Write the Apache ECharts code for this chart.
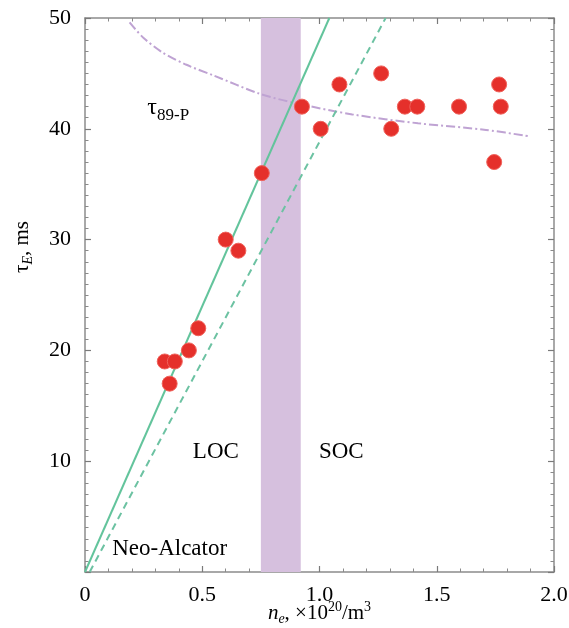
<!DOCTYPE html>
<html>
<head>
<meta charset="utf-8">
<script src="https://cdn.jsdelivr.net/npm/echarts@6/dist/echarts.min.js"></script>
<style>
  html, body { margin: 0; padding: 0; background: #fff; }
  #chart { width: 569px; height: 628px; }
</style>
</head>
<body>
<div id="chart"></div>
<script>
// Energy confinement time vs line-averaged density
const densityPoints = [0.925, 1.085, 1.005, 1.263, 1.306, 1.364, 1.417, 1.595, 1.766, 1.773, 1.745, 0.754, 0.600, 0.654, 0.483, 0.443, 0.340, 0.383, 0.361];
const tauPoints     = [42, 44, 40, 45, 40, 42, 42, 42, 44, 42, 37, 36, 30, 29, 22, 20, 19, 19, 17];

// Linear (neo-Alcator) scaling lines
const neoAlcatorSolid  = [[0, 0], [1.042, 50]];
const neoAlcatorDashed = [[0.02, 0], [1.282, 50]];

// ITER89-P reference curve
const iter89Density = [0.19, 0.25, 0.33, 0.43, 0.55, 0.74, 0.88, 1.14, 1.42, 1.71, 1.90];
const iter89Tau     = [49.6, 48.2, 46.9, 45.8, 44.8, 43.2, 42.4, 41.3, 40.5, 39.9, 39.3];

// LOC -> SOC transition band
const transitionBand = [0.75, 0.92];

// Axis ticks
const xTicks = [0, 0.5, 1.0, 1.5, 2.0];
const yTicks = [0, 10, 20, 30, 40, 50];

// Region annotations: [density, tau, text]
const annotations = [
  [0.558, 10.8, 'LOC'],
  [1.093, 10.8, 'SOC'],
  [0.361, 2.1, 'Neo-Alcator'],
  [0.355, 41.9, '{t|τ}{s|89-P}']
];

const serif = '"Liberation Serif", "DejaVu Serif", serif';
const frameColor = '#8c8c8c';
const ink = '#000';

const chart = echarts.init(document.getElementById('chart'));

function frameAxis(extra) {
  return Object.assign({
    type: 'value',
    axisLine: { show: true, onZero: false, lineStyle: { color: frameColor, width: 1.5 } },
    axisTick: { show: true, inside: true, length: 6, lineStyle: { color: '#7a7a7a', width: 1.2 } },
    splitLine: { show: false },
    minorSplitLine: { show: false }
  }, extra);
}

const xMin = xTicks[0], xMax = xTicks[xTicks.length - 1];
const yMin = yTicks[0], yMax = yTicks[yTicks.length - 1];
const xStep = xTicks[1] - xTicks[0];
const yStep = yTicks[1] - yTicks[0];
const xMinor = { show: true, splitNumber: 5, length: 3.5, lineStyle: { color: '#8a8a8a', width: 1 } };
const yMinor = { show: true, splitNumber: 10, length: 3.5, lineStyle: { color: '#8a8a8a', width: 1 } };

chart.setOption({
  animation: false,
  backgroundColor: '#ffffff',
  grid: { left: 85, right: 15, top: 18, bottom: 56, containLabel: false, outerBoundsMode: 'none' },
  xAxis: [
    frameAxis({
      position: 'bottom', min: xMin, max: xMax, interval: xStep,
      minorTick: xMinor,
      axisLabel: {
        show: true, margin: 12, color: ink, fontFamily: serif, fontSize: 22,
        formatter: v => (v === 0 ? '0' : v.toFixed(1))
      },
      name: '{i|n}{is|e}{t|, ×10}{sup|20}{t|/m}{sup|3}',
      nameLocation: 'middle', nameGap: 28, nameMoveOverlap: false,
      nameTextStyle: {
        rich: {
          i: { fontFamily: serif, fontStyle: 'italic', fontSize: 21, color: ink, lineHeight: 26, verticalAlign: 'middle' },
          is: { fontFamily: serif, fontStyle: 'italic', fontSize: 14, color: ink, lineHeight: 26, verticalAlign: 'bottom' },
          t: { fontFamily: serif, fontSize: 21, color: ink, lineHeight: 26, verticalAlign: 'middle' },
          sup: { fontFamily: serif, fontSize: 14, color: ink, lineHeight: 26, verticalAlign: 'top' }
        }
      }
    }),
    frameAxis({
      position: 'top', min: xMin, max: xMax, interval: xStep,
      minorTick: xMinor,
      axisLabel: { show: false }
    })
  ],
  yAxis: [
    frameAxis({
      position: 'left', min: yMin, max: yMax, interval: yStep,
      minorTick: yMinor,
      axisLabel: {
        show: true, margin: 14, color: ink, fontFamily: serif, fontSize: 22,
        formatter: v => (v === 0 ? '' : String(v))
      },
      name: '{t|τ}{s|E}{t|, ms}',
      nameLocation: 'middle', nameGap: 50, nameRotate: 90, nameMoveOverlap: false,
      nameTextStyle: {
        padding: [0, 0, 0, 96],
        rich: {
          t: { fontFamily: serif, fontSize: 21, color: ink, lineHeight: 26, verticalAlign: 'middle' },
          s: { fontFamily: serif, fontStyle: 'italic', fontSize: 14, color: ink, lineHeight: 26, verticalAlign: 'bottom' }
        }
      }
    }),
    frameAxis({
      position: 'right', min: yMin, max: yMax, interval: yStep,
      minorTick: yMinor,
      axisLabel: { show: false }
    })
  ],
  series: [
    {
      name: 'transition',
      type: 'line',
      data: [],
      z: 1,
      silent: true,
      markArea: {
        silent: true,
        itemStyle: { color: '#d6c0de', opacity: 1 },
        data: [[{ xAxis: transitionBand[0] }, { xAxis: transitionBand[1] }]]
      }
    },
    {
      name: 'ITER89-P',
      type: 'line',
      smooth: 0.3,
      symbol: 'none',
      z: 3,
      data: iter89Density.map((x, i) => [x, iter89Tau[i]]),
      lineStyle: { color: '#bfa3d3', width: 2, type: [9, 3, 2, 3] }
    },
    {
      name: 'neo-Alcator',
      type: 'line',
      symbol: 'none',
      z: 4,
      data: neoAlcatorSolid,
      lineStyle: { color: '#63c49c', width: 2 }
    },
    {
      name: 'neo-Alcator (dashed)',
      type: 'line',
      symbol: 'none',
      z: 4,
      data: neoAlcatorDashed,
      lineStyle: { color: '#6cc2a2', width: 2, type: [7, 5] }
    },
    {
      name: 'experiment',
      type: 'scatter',
      symbol: 'circle',
      symbolSize: 15,
      z: 6,
      data: densityPoints.map((x, i) => [x, tauPoints[i]]),
      itemStyle: { color: '#e5302b', borderColor: '#f0615a', borderWidth: 1, opacity: 1 }
    }
  ]
});

// Region labels placed in data coordinates
const subscriptRich = {
  t: { fontFamily: serif, fontSize: 24, fill: ink, lineHeight: 26, verticalAlign: 'middle' },
  s: { fontFamily: serif, fontSize: 17, fill: ink, lineHeight: 26, verticalAlign: 'bottom', padding: [0, 0, -3, 0] }
};
chart.setOption({
  graphic: annotations.map(a => {
    const p = chart.convertToPixel({ gridIndex: 0 }, [a[0], a[1]]);
    const style = {
      text: a[2],
      align: 'center',
      verticalAlign: 'middle',
      fill: ink,
      fontFamily: serif,
      fontSize: 23
    };
    if (a[2].indexOf('{') === 0) style.rich = subscriptRich;
    return { type: 'text', x: p[0], y: p[1], z: 100, silent: true, style };
  })
});
</script>
</body>
</html>
